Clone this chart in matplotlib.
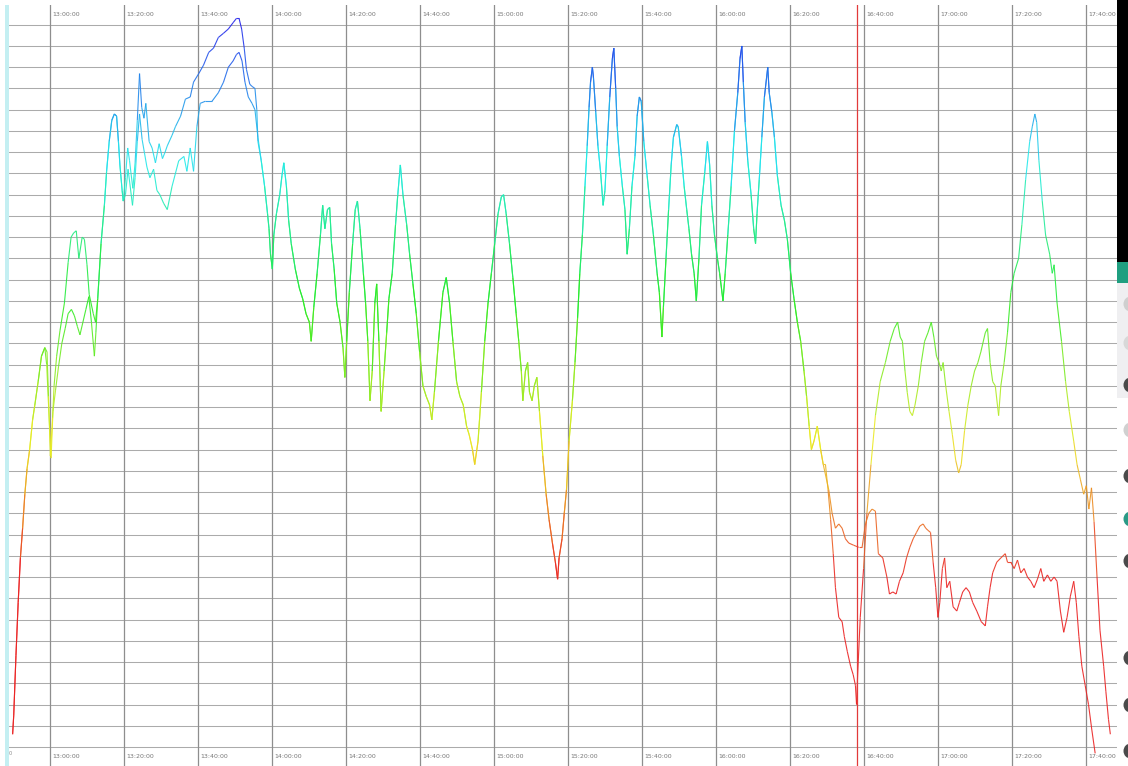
import numpy as np
import matplotlib
matplotlib.use("Agg")
import matplotlib.pyplot as plt
from matplotlib.collections import LineCollection
from matplotlib.colors import hsv_to_rgb
from matplotlib.patches import Rectangle, Ellipse

# ------------------------------------------------------------------
# data: time in minutes after 12:00, value in grid-row units
# ------------------------------------------------------------------
start_t = [49.9, 50.2, 50.8, 51.4, 52.0, 52.6, 53.2, 53.8, 54.5, 55.3, 55.9, 56.8, 57.7, 58.6]
start_v = [0.6, 1.5, 4.3, 6.8, 8.9, 10.3, 11.9, 13.1, 14.0, 15.4, 16.1, 17.2, 18.4, 18.8]

a_early_t = [59.2, 59.6, 60.1, 60.7, 61.1, 61.8, 62.7, 63.9, 64.9, 65.7, 66.4, 67.1, 67.8,
             68.7, 69.3, 70.0, 70.6, 71.7, 72.3]
a_early_v = [18.6, 16.5, 13.7, 15.5, 17.0, 18.4, 19.6, 20.9, 22.8, 24.0, 24.2, 24.3, 23.0,
             24.0, 23.9, 22.7, 21.3, 20.4, 20.0]

b_early_t = [59.1, 59.9, 60.3, 60.8, 61.5, 62.3, 63.2, 64.1, 64.9, 65.8, 66.6, 67.4, 68.1,
             68.9, 69.7, 70.5, 71.2, 72.0, 72.4]
b_early_v = [18.0, 15.0, 13.6, 15.8, 16.8, 17.9, 19.0, 19.7, 20.4, 20.6, 20.3, 19.8, 19.4,
             20.0, 20.6, 21.2, 20.0, 18.4, 19.5]

rise_t = [72.9, 73.8, 74.7, 75.3, 76.0, 76.7, 77.4, 78.0, 78.5, 78.9, 79.5, 79.8]
rise_v = [21.1, 23.7, 25.5, 27.1, 28.5, 29.5, 29.8, 29.7, 28.5, 27.4, 26.2, 25.7]

a_top_t = [80.4, 81.0, 81.5, 81.9, 82.4, 83.0, 83.6, 84.2, 84.8, 85.4, 85.9, 86.8, 87.6,
           88.5, 89.5, 90.4, 91.1, 91.7, 93.0, 93.9, 95.3, 96.6, 97.9, 98.8, 100.2, 101.5,
           102.9, 104.2, 105.5, 106.9, 108.2, 109.5, 110.4, 111.1, 111.8, 112.5, 113.1,
           114.0, 114.6, 115.4, 115.9, 116.2]
a_top_v = [26.8, 28.2, 27.6, 27.0, 26.3, 27.5, 29.5, 31.7, 30.1, 29.6, 30.3, 28.5, 28.2,
           27.5, 28.4, 27.7, 28.0, 28.3, 28.8, 29.2, 29.7, 30.5, 30.6, 31.3, 31.7, 32.1,
           32.7, 32.9, 33.4, 33.6, 33.8, 34.1, 34.3, 34.3, 33.8, 32.9, 31.9,
           31.2, 31.1, 31.0, 30.0, 28.5]

b_top_t = [80.4, 81.1, 81.6, 82.3, 83.0, 83.6, 84.2, 84.9, 85.5, 86.2, 87.0, 88.0, 88.9,
           89.7, 90.7, 91.7, 93.0, 94.8, 96.2, 97.0, 97.9, 98.8, 99.7, 100.6, 102.0, 103.8,
           105.5, 106.9, 108.2, 109.5, 110.4, 111.1, 111.9, 112.7, 113.6, 114.6, 115.4, 116.2]
b_top_v = [26.0, 27.2, 26.5, 25.5, 26.8, 28.5, 29.8, 28.6, 28.0, 27.3, 26.8, 27.2, 26.2,
           26.0, 25.6, 25.3, 26.4, 27.6, 27.8, 27.1, 28.2, 27.1, 29.2, 30.3, 30.4, 30.4,
           30.8, 31.3, 32.0, 32.3, 32.6, 32.7, 32.3, 31.3, 30.6, 30.3, 30.0, 28.7]

mid_t = [117.1, 118.0, 118.8, 119.2, 119.6, 120.1, 120.5, 121.2, 122.1, 122.7, 123.2, 123.9,
         124.5, 125.2, 126.3, 127.4, 128.3, 129.2, 130.1, 130.6, 131.3, 132.2, 133.1, 133.7,
         134.3, 135.0, 135.6, 136.1, 136.8, 137.5, 138.4, 139.2, 139.7, 140.2, 140.9, 141.8,
         142.5, 143.1, 143.8, 144.7, 145.3, 145.9, 146.5, 147.1, 147.8, 148.3, 148.9, 149.5,
         150.3, 151.0, 151.6, 152.5, 153.4, 154.0, 154.7, 155.4, 156.4, 157.2, 158.1, 159.0,
         159.9, 160.8, 161.7, 162.6, 163.2, 163.9, 165.0, 166.2, 167.1, 168.0, 168.9, 169.9,
         170.8, 171.7, 172.6, 173.3, 174.2, 174.8, 175.7, 176.6, 177.5, 178.4, 179.3, 180.2,
         181.1, 182.0, 182.6, 183.3, 184.2, 185.1, 186.0, 186.7, 187.4, 187.8, 188.5, 189.1,
         189.6, 190.3, 190.9, 191.6, 192.3, 193.2, 194.1, 194.9, 195.8, 196.6, 197.2, 197.6,
         198.4, 199.0, 199.6, 200.3, 201.2, 201.9, 202.6, 203.2, 203.9, 204.6, 205.2, 205.7,
         206.1, 206.6, 206.9, 207.5, 208.1, 208.8, 209.5, 210.0, 210.6, 211.3, 212.0, 212.4,
         212.9, 213.3, 213.9, 214.7, 215.4, 216.0, 216.6, 217.3, 218.1, 218.7, 219.3, 219.8,
         220.5, 221.4, 222.2, 223.1, 224.1, 224.7, 225.4, 225.8, 226.5, 227.2, 227.9, 228.5,
         229.4, 229.8, 230.7, 231.4, 232.1, 232.7, 233.4, 234.1, 234.7, 235.4, 236.1, 237.0,
         237.7, 238.3, 238.9, 239.6, 240.4, 241.0, 241.9, 242.5, 243.2, 244.1, 245.0, 245.9,
         246.5, 247.0, 247.4, 247.9, 248.6, 249.5, 250.2, 250.7, 251.1, 251.7, 252.4, 253.1,
         254.0, 254.4, 255.1, 255.8, 256.6, 257.6, 258.5, 259.3, 260.2, 261.1, 262.0, 262.9,
         263.8, 264.5, 265.2, 265.8, 266.5, 267.4, 268.3, 269.0]
mid_v = [27.6, 26.4, 25.1, 24.4, 23.2, 22.5, 24.1, 25.1, 26.0, 26.9, 27.5, 26.4,
         24.8, 23.7, 22.5, 21.6, 21.1, 20.4, 20.0, 19.1, 20.7, 22.3, 24.1, 25.5,
         24.4, 25.3, 25.4, 23.7, 22.5, 20.9, 20.0, 18.8, 17.4, 19.1, 21.4, 23.7,
         25.3, 25.7, 24.4, 22.3, 20.9, 19.1, 16.3, 17.7, 20.9, 21.8, 19.1, 15.8,
         17.7, 19.5, 21.1, 22.3, 24.6, 26.0, 27.4, 26.0, 24.6, 23.2, 21.8, 20.4,
         18.6, 17.0, 16.5, 16.1, 15.4, 16.7, 19.1, 21.4, 22.1, 20.9, 19.1, 17.2,
         16.5, 16.1, 15.1, 14.7, 14.0, 13.3, 14.4, 16.7, 19.1, 20.9, 22.3, 23.7,
         25.1, 25.9, 26.0, 25.1, 23.7, 22.1, 20.4, 19.1, 17.7, 16.3, 17.7, 18.1,
         16.7, 16.3, 17.0, 17.4, 15.8, 13.7, 11.9, 10.7, 9.6, 8.7, 7.9, 8.9,
         9.8, 11.0, 12.1, 14.4, 16.3, 18.1, 20.2, 22.3, 24.1, 26.4, 28.3, 30.1,
         31.3, 32.0, 31.5, 29.9, 28.3, 27.1, 25.5, 26.2, 28.3, 30.6, 32.4, 32.9,
         31.0, 29.2, 27.8, 26.4, 25.3, 23.2, 24.4, 26.4, 27.8, 29.7, 30.6, 30.4,
         28.5, 26.9, 25.5, 24.1, 22.3, 21.4, 19.3, 20.7, 23.0, 25.3, 27.4, 28.7,
         29.3, 29.2, 27.8, 26.4, 25.3, 24.4, 23.2, 22.3, 21.0, 23.0, 25.5, 27.1,
         28.5, 27.4, 25.5, 24.1, 23.0, 22.3, 21.0, 22.3, 24.1, 26.4, 29.0, 30.8,
         32.4, 33.0, 31.3, 29.4, 27.6, 26.0, 24.4, 23.7, 25.1, 26.7, 28.7, 30.6,
         32.0, 30.8, 29.9, 28.7, 26.9, 25.5, 24.8, 23.9, 22.3, 21.1, 20.0, 19.1,
         17.7, 16.5, 15.1, 14.0, 14.4, 15.1, 14.0, 13.3]

a_late_t = [270.5, 271.4, 272.3, 273.2, 274.1, 275.0, 275.9, 277.2, 278.6, 279.5, 280.4,
            281.3, 282.2, 283.1, 283.9, 285.1, 286.2, 286.9, 287.8, 288.7, 289.6, 290.6,
            291.5, 292.4, 293.3, 294.2, 295.1, 296.0, 296.7, 297.3, 298.0, 298.7, 299.4,
            300.0, 300.5, 301.2, 301.8, 302.4, 303.2, 304.1, 305.1, 305.8, 306.7, 307.6,
            308.5, 309.4, 310.5, 311.7, 312.8, 313.4, 314.1, 314.8, 315.9, 317.0, 318.2,
            318.8, 319.7, 320.6, 321.5, 322.4, 323.3, 324.2, 325.1, 326.0, 326.9, 327.8,
            328.6, 329.6, 330.5, 331.4, 332.2, 333.1, 334.0, 334.9, 335.8, 336.7, 337.4,
            338.1, 338.9, 339.8, 340.7, 341.6, 342.5]
a_late_v = [12.1, 11.0, 10.3, 10.5, 10.3, 9.8, 9.6, 9.5, 9.4, 9.4, 10.5,
            11.0, 11.2, 11.1, 9.1, 8.9, 8.0, 7.2, 7.3, 7.2, 7.8, 8.2,
            8.9, 9.4, 9.8, 10.1, 10.4, 10.5, 10.3, 10.2, 10.1, 8.7, 7.5,
            6.1, 6.8, 8.4, 8.9, 7.5, 7.8, 6.6, 6.4, 6.8, 7.3, 7.5,
            7.3, 6.8, 6.4, 5.9, 5.7, 6.6, 7.5, 8.2, 8.7, 8.9, 9.1,
            8.7, 8.7, 8.4, 8.8, 8.2, 8.4, 8.0, 7.8, 7.5, 7.9, 8.4,
            7.8, 8.1, 7.8, 8.0, 7.8, 6.4, 5.4, 6.1, 7.1, 7.8, 6.8,
            5.2, 3.8, 2.9, 2.0, 0.8, -0.3]

b_late_t = [269.6, 270.3, 271.0, 271.7, 272.3, 273.2, 274.1, 274.7, 275.5, 276.4, 277.1,
            277.7, 278.0, 278.3, 279.0, 279.9, 280.8, 281.9, 283.1, 284.4, 285.8, 287.1,
            288.2, 289.1, 289.8, 290.4, 291.1, 291.7, 292.4, 293.1, 293.8, 294.7, 295.5,
            296.4, 297.3, 298.2, 298.9, 299.6, 300.3, 300.9, 301.4, 302.1, 303.0, 303.9,
            304.8, 305.6, 306.3, 307.2, 308.1, 309.0, 309.9, 310.8, 311.6, 312.8, 313.4,
            314.1, 314.8, 315.5, 316.4, 317.0, 317.9, 318.8, 319.7, 320.6, 321.8, 322.7,
            323.7, 324.8, 325.5, 326.2, 326.7, 327.3, 328.2, 329.1, 330.2, 330.9, 331.4,
            332.2, 333.4, 334.5, 335.5, 336.7, 337.6, 338.5, 339.4, 340.1, 340.8, 341.5,
            342.2, 343.0, 343.8, 344.8, 345.4, 346.1, 346.6]
b_late_v = [13.3, 12.1, 10.7, 9.1, 7.5, 6.1, 5.9, 5.2, 4.5, 3.8, 3.4,
            2.9, 2.0, 3.4, 6.1, 8.4, 11.0, 13.3, 15.6, 17.2, 18.1, 19.1,
            19.7, 20.0, 19.3, 19.1, 17.7, 16.7, 15.8, 15.6, 16.1, 17.0, 18.1,
            19.1, 19.5, 20.0, 19.3, 18.4, 18.1, 17.7, 18.1, 17.0, 15.8, 14.7,
            13.5, 12.9, 13.3, 14.9, 16.1, 17.0, 17.7, 18.1, 18.6, 19.5, 19.7,
            18.1, 17.2, 17.0, 15.6, 17.0, 18.1, 19.5, 21.4, 22.3, 23.0, 24.6,
            26.7, 28.5, 29.2, 29.8, 29.4, 27.6, 25.7, 24.1, 23.2, 22.3, 22.7,
            20.9, 19.1, 17.2, 15.8, 14.4, 13.3, 12.6, 11.9, 12.3, 11.2, 12.2,
            10.6, 8.0, 5.5, 3.8, 2.6, 1.3, 0.6]

tick_minutes = list(range(60, 341, 20))   # 13:00 ... 17:40
cursor_t = 278.2                          # red marker line


def value_colors(vals):
    # red at the bottom of the range, through yellow/green/cyan to blue at the top
    hue = np.clip((vals - 8.0) / 26.0, 0, 1) * (240.0 / 360.0)
    hsv = np.stack([hue, np.full_like(hue, 0.85), np.full_like(hue, 0.92)], axis=1)
    return hsv_to_rgb(hsv)


def colored_line(ax, t, v, lw=0.8):
    t = np.asarray(t, float)
    v = np.asarray(v, float)
    pts = np.column_stack([t, v]).reshape(-1, 1, 2)
    segs = np.concatenate([pts[:-1], pts[1:]], axis=1)
    cols = value_colors((v[:-1] + v[1:]) / 2)
    ax.add_collection(LineCollection(segs, colors=cols, linewidths=lw, alpha=0.9, zorder=3))


W, H = 1128, 766
fig = plt.figure(figsize=(W / 100, H / 100), dpi=100)
fig.patch.set_facecolor("white")

# main plot area: x from px 8 to 1117, y from px 5 to bottom
ax = fig.add_axes([8 / W, 0, (1117 - 8) / W, (H - 5) / H])
ax.set_xlim(48.65, 348.4)
ax.set_ylim(-0.895, 34.93)
ax.axis("off")

# horizontal grid rows
for k in range(35):
    ax.axhline(k, color="#ababab", lw=0.75, zorder=1)
# vertical time grid
for m in tick_minutes:
    ax.axvline(m, color="#8e8e8e", lw=0.9, zorder=1)
    lab = f"{12 + m // 60}:{m % 60:02d}:00"
    for yy in (34.47, -0.45):
        ax.text(m + 0.7, yy, lab, fontsize=4.5, color="#777777", ha="left",
                va="center", clip_on=True, zorder=2)
ax.text(48.9, -0.3, "0", fontsize=3.5, color="#888888", ha="left", va="center")

# the two traces
line_a_t = start_t + a_early_t + rise_t + a_top_t + mid_t + a_late_t
line_a_v = start_v + a_early_v + rise_v + a_top_v + mid_v + a_late_v
line_b_t = start_t + b_early_t + rise_t + b_top_t + mid_t + b_late_t
line_b_v = start_v + b_early_v + rise_v + b_top_v + mid_v + b_late_v
colored_line(ax, line_b_t, line_b_v)
colored_line(ax, line_a_t, line_a_v)

ax.axvline(cursor_t, color="#e23a3a", lw=0.9, zorder=4)

# pale cyan strip on the left edge
fig.add_artist(Rectangle((5 / W, 0), 4 / W, (H - 5) / H, transform=fig.transFigure,
                         facecolor="#c4eff2", edgecolor="none"))

# cut-off side panel on the right (pixel coordinates)
side = fig.add_axes([1117 / W, 0, (W - 1117) / W, 1])
side.set_xlim(1117, W)
side.set_ylim(H, 0)
side.axis("off")
side.add_patch(Rectangle((1117, 0), 11, 262, facecolor="black", edgecolor="none"))
side.add_patch(Rectangle((1117, 262), 11, 21, facecolor="#1f9f80", edgecolor="none"))
side.add_patch(Rectangle((1117, 283), 11, 115, facecolor="#efeff1", edgecolor="none"))
dots = [(304, "#cfcfcf"), (343, "#d8d8d8"), (385, "#4a4a4a"), (430, "#d0d0d0"),
        (476, "#4a4a4a"), (519, "#2a9a86"), (561, "#4a4a4a"), (658, "#4a4a4a"),
        (705, "#4a4a4a"), (751, "#4a4a4a")]
for yy, c in dots:
    side.add_patch(Ellipse((1130.5, yy), 14, 15, facecolor=c, edgecolor="none"))

fig.savefig("out.png", dpi=100)
